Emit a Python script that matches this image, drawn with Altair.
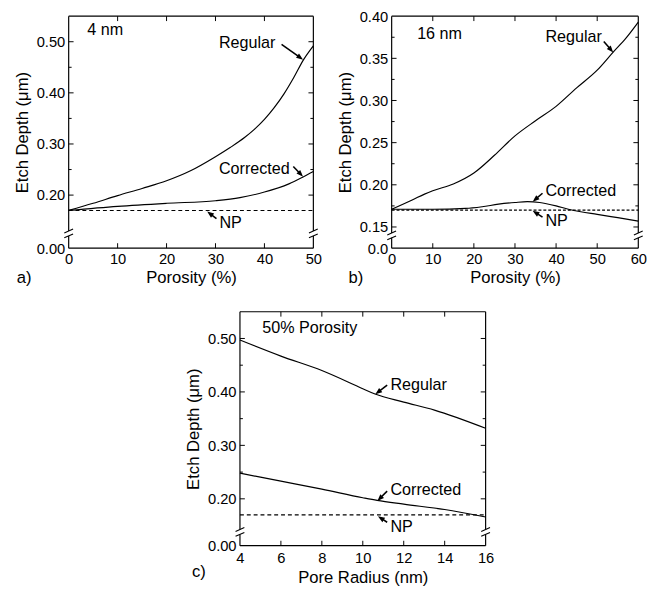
import math
import altair as alt
import pandas as pd

FONT = "Liberation Sans"

# ---------------- Panel a : 4 nm ----------------
a_reg_x = [0, 5, 10, 15, 20, 25, 30, 33, 36, 38, 40, 42, 44, 46, 48, 50]
a_reg_y = [0.170, 0.184, 0.199, 0.213, 0.228, 0.248, 0.275, 0.293, 0.313, 0.329, 0.348, 0.371, 0.398, 0.430, 0.465, 0.492]
a_cor_x = [0, 10, 20, 30, 35, 40, 45, 48, 50]
a_cor_y = [0.170, 0.178, 0.184, 0.189, 0.195, 0.206, 0.222, 0.236, 0.246]
a_np_x = [0, 50]
a_np_y = [0.170, 0.170]
a_xdomain = [0, 50]
a_ydomain = [0, 0.125, 0.55]
a_xlabels = [0, 10, 20, 30, 40, 50]
a_ylabels = [0, 0.2, 0.3, 0.4, 0.5]
a_xticks = [10, 20, 30, 40]
a_ymajor = [0.2, 0.3, 0.4, 0.5]
a_yminor = [0.25, 0.35, 0.45]
a_ann_text = ["4 nm", "Regular", "Corrected", "NP"]
a_ann_x = [3.8, 30.7, 30.7, 30.8]
a_ann_y = [0.523, 0.497, 0.251, 0.146]
a_arrow_x1 = [43.5, 45.9, 30.2]
a_arrow_y1 = [0.495, 0.256, 0.154]
a_arrow_x2 = [47.9, 47.9, 28.3]
a_arrow_y2 = [0.465, 0.236, 0.168]

# ---------------- Panel b : 16 nm ----------------
b_reg_x = [0, 5, 8, 10, 15, 20, 25, 30, 35, 40, 45, 50, 54, 57, 60]
b_reg_y = [0.171, 0.182, 0.189, 0.193, 0.201, 0.214, 0.235, 0.258, 0.276, 0.293, 0.315, 0.336, 0.358, 0.374, 0.393]
b_cor_x = [0, 10, 18, 22, 26, 30, 33, 36, 40, 43, 46, 50, 55, 60]
b_cor_y = [0.171, 0.171, 0.172, 0.174, 0.177, 0.179, 0.180, 0.179, 0.175, 0.171, 0.168, 0.165, 0.161, 0.157]
b_np_x = [0, 60]
b_np_y = [0.170, 0.170]
b_xdomain = [0, 60]
b_ydomain = [0, 0.14, 0.40]
b_xlabels = [0, 10, 20, 30, 40, 50, 60]
b_ylabels = [0, 0.15, 0.20, 0.25, 0.30, 0.35, 0.40]
b_xticks = [10, 20, 30, 40, 50]
b_ymajor = [0.15, 0.20, 0.25, 0.30, 0.35]
b_yminor = [0.175, 0.225, 0.275, 0.325, 0.375]
b_ann_text = ["16 nm", "Regular", "Corrected", "NP"]
b_ann_x = [6.2, 37.4, 37.4, 37.4]
b_ann_y = [0.379, 0.3756, 0.193, 0.157]
b_arrow_x1 = [51.6, 36.7, 36.7]
b_arrow_y1 = [0.370, 0.190, 0.1616]
b_arrow_x2 = [53.9, 34.3, 34.3]
b_arrow_y2 = [0.357, 0.180, 0.1692]

# ---------------- Panel c : 50% porosity ----------------
c_reg_x = [4, 6, 8, 10, 10.6, 12, 13.5, 16]
c_reg_y = [0.497, 0.467, 0.440, 0.406, 0.396, 0.381, 0.366, 0.332]
c_cor_x = [4, 6, 8, 10, 10.7, 12, 14, 16]
c_cor_y = [0.248, 0.233, 0.218, 0.202, 0.197, 0.190, 0.180, 0.166]
c_np_x = [4, 16]
c_np_y = [0.170, 0.170]
c_xdomain = [4, 16]
c_ydomain = [0, 0.138, 0.55]
c_xlabels = [4, 6, 8, 10, 12, 14, 16]
c_ylabels = [0, 0.2, 0.3, 0.4, 0.5]
c_xticks = [6, 8, 10, 12, 14]
c_ymajor = [0.2, 0.3, 0.4, 0.5]
c_yminor = [0.25, 0.35, 0.45]
c_ann_text = ["50% Porosity", "Regular", "Corrected", "NP"]
c_ann_x = [5.09, 11.35, 11.35, 11.35]
c_ann_y = [0.519, 0.4126, 0.2161, 0.1471]
c_arrow_x1 = [11.19, 11.19, 11.19]
c_arrow_y1 = [0.4126, 0.2143, 0.1562]
c_arrow_x2 = [10.61, 10.71, 10.74]
c_arrow_y2 = [0.3956, 0.196, 0.1672]

SLASHES = "M-0.9,-0.1L0.9,-0.9M-0.9,0.9L0.9,0.1"
HEAD = "M0,-1L0.75,1L-0.75,1Z"


def panel(p):
    W, H = p["W"], p["H"]
    yrange = [H, H - p["brk_px"], 0]
    xs = alt.Scale(domain=p["xdomain"], nice=False, zero=False)
    ys = alt.Scale(domain=p["ydomain"], range=yrange, nice=False, zero=False)
    xaxis = alt.Axis(values=p["xlabels"], format="d", ticks=False, tickSize=0, domain=False,
                     grid=False, labelFlush=False, labelOverlap=False, labelFontSize=15,
                     labelFont=FONT, titleFont=FONT, titleFontWeight="normal",
                     labelPadding=p["xlabpad"], title=p["xtitle"], titleFontSize=17,
                     titlePadding=p["xtitpad"])
    yaxis = alt.Axis(values=p["ylabels"], labelExpr=p["ylabexpr"], ticks=False, tickSize=0,
                     domain=False, grid=False, labelFlush=False, labelOverlap=False,
                     labelFont=FONT, titleFont=FONT, titleFontWeight="normal",
                     labelFontSize=15, labelPadding=4, title="Etch Depth (μm)",
                     titleFontSize=17, titlePadding=5)
    X = lambda f: alt.X(f, type="quantitative", scale=xs, axis=xaxis)
    Y = lambda f: alt.Y(f, type="quantitative", scale=ys, axis=yaxis)

    lines = pd.DataFrame(
        {"x": p["reg_x"] + p["cor_x"],
         "y": p["reg_y"] + p["cor_y"],
         "s": ["Regular"] * len(p["reg_x"]) + ["Corrected"] * len(p["cor_x"])}
    )
    curves = alt.Chart(lines).mark_line(color="black", strokeWidth=1.2, interpolate="monotone").encode(
        x=X("x"), y=Y("y"), detail="s:N")
    npdf = pd.DataFrame({"x": p["np_x"], "y": p["np_y"]})
    npline = alt.Chart(npdf).mark_line(color="black", strokeWidth=1.1, strokeDash=p["dash"]).encode(
        x=X("x"), y=Y("y"))

    ann = pd.DataFrame({"t": p["ann_text"], "x": p["ann_x"], "y": p["ann_y"]})
    texts = alt.Chart(ann).mark_text(align="left", baseline="middle", fontSize=16.5, font=FONT,
                                     color="black").encode(x=X("x"), y=Y("y"), text="t:N")

    # arrows
    sx = W / (p["xdomain"][1] - p["xdomain"][0])
    sy = (yrange[1] - yrange[2]) / (p["ydomain"][2] - p["ydomain"][1])
    rows = []
    back = 3.5
    for x1, y1, x2, y2 in zip(p["ax1"], p["ay1"], p["ax2"], p["ay2"]):
        dx = (x2 - x1) * sx
        dy = -(y2 - y1) * sy
        L = math.hypot(dx, dy)
        ux, uy = dx / L, dy / L
        ang = math.degrees(math.atan2(ux, -uy)) % 360
        xc = x2 - back * ux / sx
        yc = y2 + back * uy / sy
        rows.append({"x1": x1, "y1": y1, "xc": xc, "yc": yc, "ang": ang})
    adf = pd.DataFrame(rows)
    shafts = alt.Chart(adf).mark_rule(color="black", strokeWidth=1.6).encode(
        x=X("x1"), y=Y("y1"), x2="xc:Q", y2="yc:Q")
    heads = alt.Chart(adf).mark_point(shape=HEAD, filled=True, color="black", size=49, opacity=1,
                                      strokeWidth=0).encode(
        x=X("xc"), y=Y("yc"), angle=alt.Angle("ang:Q", scale=None))

    # inward ticks
    def yt(vals, ln, right):
        d = pd.DataFrame({"v": vals})
        if right:
            return alt.Chart(d).mark_rule(color="black", strokeWidth=1).encode(
                y=Y("v"), x=alt.value(W - ln), x2=alt.value(W))
        return alt.Chart(d).mark_rule(color="black", strokeWidth=1).encode(
            y=Y("v"), x=alt.value(0), x2=alt.value(ln))

    def xt(vals, ln, top):
        d = pd.DataFrame({"v": vals})
        if top:
            return alt.Chart(d).mark_rule(color="black", strokeWidth=1).encode(
                x=X("v"), y=alt.value(0), y2=alt.value(ln))
        return alt.Chart(d).mark_rule(color="black", strokeWidth=1).encode(
            x=X("v"), y=alt.value(H), y2=alt.value(H - ln))

    ticks = [yt(p["ymajor"], 5, False), yt(p["ymajor"], 5, True),
             yt(p["yminor"], 3, False), yt(p["yminor"], 3, True),
             xt(p["xticks"], 5, False), xt(p["xticks"], 5, True)]

    # frame with axis breaks
    one = pd.DataFrame({"b": [p["ydomain"][1]], "z": [p["ydomain"][0]]})
    base = alt.Chart(one)
    frame = [
        base.mark_rule(color="black", strokeWidth=1.2).encode(x=alt.value(0), x2=alt.value(W), y=alt.value(0)),
        base.mark_rule(color="black", strokeWidth=1.2).encode(x=alt.value(0), x2=alt.value(W), y=alt.value(H)),
    ]
    for xv in (0, W):
        frame.append(base.mark_rule(color="black", strokeWidth=1.2, yOffset=-2.5).encode(
            x=alt.value(xv), y=Y("b"), y2=alt.value(0)))
        frame.append(base.mark_rule(color="black", strokeWidth=1.2, yOffset=2.5).encode(
            x=alt.value(xv), y=Y("b"), y2="z:Q"))
        frame.append(base.mark_point(shape=SLASHES, filled=False, color="black", size=100,
                                     opacity=1, strokeWidth=1.1).encode(x=alt.value(xv), y=Y("b")))

    lab = alt.Chart(pd.DataFrame({"t": [p["label"]]})).mark_text(
        align="left", baseline="middle", fontSize=17, font=FONT, color="black").encode(
        x=alt.value(p["lab_x"]), y=alt.value(p["lab_y"]), text="t:N")

    layers = [curves, npline, texts, shafts, heads, *ticks, *frame, lab]
    return alt.layer(*layers).properties(width=W, height=H)


pa = panel(dict(W=250, H=237, brk_px=15, xdomain=a_xdomain, ydomain=a_ydomain,
                reg_x=a_reg_x, reg_y=a_reg_y, cor_x=a_cor_x, cor_y=a_cor_y,
                np_x=a_np_x, np_y=a_np_y, dash=[4, 3],
                xlabels=a_xlabels, ylabels=a_ylabels, ylabexpr="format(datum.value, '.2f')",
                xticks=a_xticks, ymajor=a_ymajor, yminor=a_yminor,
                ann_text=a_ann_text, ann_x=a_ann_x, ann_y=a_ann_y,
                ax1=a_arrow_x1, ay1=a_arrow_y1, ax2=a_arrow_x2, ay2=a_arrow_y2,
                xtitle="Porosity (%)", xlabpad=4, xtitpad=3.5,
                label="a)", lab_x=-53, lab_y=268))

pb = panel(dict(W=252, H=237, brk_px=13, xdomain=b_xdomain, ydomain=b_ydomain,
                reg_x=b_reg_x, reg_y=b_reg_y, cor_x=b_cor_x, cor_y=b_cor_y,
                np_x=b_np_x, np_y=b_np_y, dash=[3, 2],
                xlabels=b_xlabels, ylabels=b_ylabels,
                ylabexpr="datum.value == 0 ? '0.0' : format(datum.value, '.2f')",
                xticks=b_xticks, ymajor=b_ymajor, yminor=b_yminor,
                ann_text=b_ann_text, ann_x=b_ann_x, ann_y=b_ann_y,
                ax1=b_arrow_x1, ay1=b_arrow_y1, ax2=b_arrow_x2, ay2=b_arrow_y2,
                xtitle="Porosity (%)", xlabpad=4, xtitpad=3.5,
                label="b)", lab_x=-44, lab_y=268))

pc = panel(dict(W=251, H=239, brk_px=14, xdomain=c_xdomain, ydomain=c_ydomain,
                reg_x=c_reg_x, reg_y=c_reg_y, cor_x=c_cor_x, cor_y=c_cor_y,
                np_x=c_np_x, np_y=c_np_y, dash=[4, 3],
                xlabels=c_xlabels, ylabels=c_ylabels, ylabexpr="format(datum.value, '.2f')",
                xticks=c_xticks, ymajor=c_ymajor, yminor=c_yminor,
                ann_text=c_ann_text, ann_x=c_ann_x, ann_y=c_ann_y,
                ax1=c_arrow_x1, ay1=c_arrow_y1, ax2=c_arrow_x2, ay2=c_arrow_y2,
                xtitle="Pore Radius (nm)", xlabpad=5, xtitpad=5,
                label="c)", lab_x=-49, lab_y=266))

# empty, invisible cell that pushes panel c to the centre of the figure
spacer = alt.Chart(pd.DataFrame({"v": [0]})).mark_point(opacity=0, size=1).encode(
    x=alt.value(0), y=alt.value(0)).properties(width=118, height=1)

top = alt.hconcat(pa, pb, spacing=14)
bottom = alt.hconcat(spacer, pc, spacing=0)
chart = alt.vconcat(top, bottom, spacing=25).properties(
    padding={"left": 5, "top": -5, "right": 5, "bottom": 0},
    background="white",
).configure_view(strokeWidth=0, stroke="transparent").configure_axis(
    labelFont=FONT, titleFont=FONT, labelColor="black", titleColor="black",
    titleFontWeight="normal")

chart.save("out.html", embed_options={"renderer": "svg", "actions": False})
